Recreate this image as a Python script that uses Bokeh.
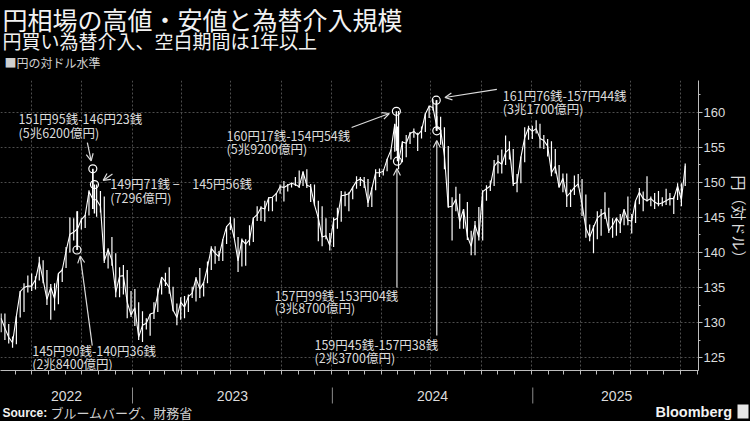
import math
import pandas as pd
from bokeh.plotting import figure
from bokeh.layouts import row
from bokeh.models import (Range1d, FixedTicker, Label, Arrow, OpenHead, ColumnDataSource)
from bokeh.embed import file_html
from bokeh.resources import INLINE

# ---------------- texts ----------------
title_text = "円相場の高値・安値と為替介入規模"
subtitle_text = "円買い為替介入、空白期間は1年以上"
legend_text = "■円の対ドル水準"
y_axis_text = "円（対ドル）"
source_bold = "Source:"
source_text = "ブルームバーグ、財務省"
logo_text = "Bloomberg"
year_labels = ["2022", "2023", "2024", "2025"]
y_ticks = [125, 130, 135, 140, 145, 150, 155, 160]
y_minor_ticks = [122.5, 125, 127.5, 130, 132.5, 135, 137.5, 140, 142.5, 145,
                 147.5, 150, 152.5, 155, 157.5, 160, 162.5]

# ---------------- weekly USD/JPY (week ending Friday) ----------------
first_week = "2022-05-06"
high_2022 = [131.3, 131.3, 129.8, 128.0, 130.9, 134.5, 135.6, 136.7, 137.0, 136.6,
             139.4, 138.9, 137.5, 135.5, 135.6, 137.0, 137.7, 140.8, 145.0, 144.9,
             145.9, 144.9, 145.4, 148.9, 151.9, 149.7, 148.8, 148.0, 140.6, 142.2,
             139.9, 137.9, 138.2, 137.5, 134.5]
low_2022 = [128.6, 127.5, 127.0, 126.4, 126.9, 130.7, 131.5, 134.3, 134.5, 134.7,
            136.0, 135.6, 132.5, 130.4, 131.7, 132.6, 135.8, 137.8, 140.0, 141.7,
            140.4, 143.3, 143.5, 145.3, 146.2, 145.1, 145.7, 138.5, 137.7, 138.1,
            133.6, 133.6, 134.0, 130.6, 130.8]
close_2022 = [130.6, 129.2, 127.9, 127.1, 130.9, 134.4, 135.0, 135.2, 135.2, 136.1,
              138.6, 136.1, 133.3, 135.0, 133.4, 137.0, 137.5, 140.2, 142.6, 142.9,
              143.4, 144.7, 145.3, 148.7, 147.6, 147.5, 146.6, 138.8, 140.4, 138.9,
              134.3, 136.6, 136.7, 132.9, 131.1]

high_2023 = [134.8, 132.9, 131.6, 130.6, 131.2, 132.9, 134.9, 136.5, 137.1, 137.9,
             135.1, 132.7, 133.6, 133.8, 134.0, 135.1, 136.5, 137.8, 135.8, 138.7,
             140.9, 140.9, 140.2, 141.9, 143.8, 145.1, 144.9, 142.2, 142.0, 141.9,
             143.9, 145.0, 146.6, 146.6, 147.4, 147.9, 147.9, 148.5, 149.7, 150.2,
             149.8, 150.0, 150.8, 151.7, 151.6, 151.9, 149.8, 149.7, 147.4, 146.6,
             144.9, 142.8]
low_2023 = [129.5, 127.5, 127.2, 129.0, 128.1, 130.5, 131.5, 134.0, 135.2, 134.1,
            131.6, 129.6, 130.4, 130.6, 131.5, 133.5, 133.0, 133.5, 133.7, 135.6,
            137.5, 138.4, 138.8, 138.8, 141.2, 143.2, 142.1, 137.2, 138.0, 138.1,
            141.0, 141.5, 144.5, 144.5, 144.4, 145.9, 145.9, 147.3, 148.4, 147.3,
            148.7, 149.3, 149.5, 149.2, 149.5, 149.2, 147.2, 146.7, 141.6, 140.9,
            141.9, 140.3]
close_2023 = [132.1, 127.9, 129.6, 129.9, 131.2, 131.4, 134.1, 136.5, 135.8, 135.0,
              131.8, 130.7, 132.9, 132.2, 133.7, 134.2, 136.3, 134.8, 135.7, 137.9,
              140.6, 139.9, 139.4, 141.8, 143.7, 144.3, 142.1, 138.8, 141.8, 141.2,
              141.8, 144.9, 145.4, 146.4, 146.2, 147.8, 147.9, 148.4, 149.4, 149.3,
              149.6, 149.9, 149.7, 149.4, 151.5, 149.6, 149.4, 146.8, 144.9, 142.2,
              142.4, 141.0]

high_2024 = [145.0, 146.4, 148.8, 148.7, 148.6, 149.4, 150.9, 150.8, 150.8, 150.5,
             149.3, 151.9, 152.0, 151.9, 153.4, 154.7, 158.4, 160.2, 155.9, 156.8,
             157.2, 157.7, 157.1, 158.0, 159.9, 161.0, 161.9, 161.8, 159.4, 157.9,
             155.2, 147.9, 149.4, 148.4, 146.2, 147.2, 143.1, 144.5, 146.5, 148.9,
             149.6, 150.3, 153.2, 153.9, 154.7, 156.7, 155.9, 154.8, 151.2, 153.7,
             157.9, 158.1]
low_2024 = [140.8, 143.4, 144.4, 146.6, 145.9, 147.6, 149.1, 149.5, 149.2, 146.5,
            146.5, 148.9, 150.8, 151.0, 151.6, 153.3, 154.4, 151.9, 152.9, 153.6,
            155.5, 156.4, 154.5, 156.3, 157.2, 159.2, 160.3, 157.4, 155.4, 151.9,
            146.4, 141.7, 145.9, 143.4, 143.4, 141.8, 139.6, 139.6, 141.7, 141.7,
            147.4, 148.8, 149.5, 151.3, 151.3, 152.5, 153.3, 149.5, 148.6, 149.9,
            152.9, 156.1]
close_2024 = [144.6, 144.9, 148.1, 148.2, 148.4, 149.3, 150.2, 150.5, 150.1, 147.1,
              149.1, 151.4, 151.4, 151.6, 153.3, 154.6, 158.3, 153.0, 155.8, 155.6,
              157.0, 157.3, 156.8, 157.4, 159.8, 160.9, 160.7, 157.9, 157.5, 153.8,
              146.5, 146.6, 147.6, 144.4, 146.2, 142.3, 140.9, 143.9, 142.2, 148.7,
              149.1, 149.5, 152.3, 153.0, 152.6, 154.3, 154.8, 149.8, 150.0, 153.6,
              156.4, 157.8]

high_2025 = [158.1, 158.9, 158.4, 156.8, 156.2, 155.9, 154.8, 152.5, 151.3, 151.3,
             149.0, 151.0, 151.2, 150.5, 148.3, 144.0, 143.9, 145.9, 146.2, 148.6,
             146.4, 144.9, 145.0, 145.5, 146.2, 148.0, 145.5, 147.4, 149.2, 148.7,
             150.9, 148.0, 148.5, 148.8, 147.9, 149.1, 148.5, 148.0, 149.9, 149.9,
             152.7]
low_2025 = [156.2, 157.0, 154.9, 154.8, 153.7, 150.9, 151.3, 149.3, 148.6, 146.5,
            146.5, 148.2, 149.3, 145.2, 142.1, 141.6, 139.9, 141.9, 142.4, 144.8,
            142.8, 142.1, 142.4, 142.8, 143.9, 143.9, 142.7, 144.2, 146.9, 145.9,
            147.3, 146.6, 146.2, 146.6, 146.6, 146.8, 146.7, 145.5, 147.5, 146.6,
            149.5]
close_2025 = [157.3, 157.7, 156.3, 156.0, 155.2, 151.4, 152.3, 149.3, 150.6, 148.0,
              148.6, 149.3, 149.8, 146.9, 143.5, 142.2, 143.6, 144.9, 145.4, 145.7,
              143.1, 143.9, 144.9, 144.1, 146.1, 144.6, 144.5, 147.4, 148.6, 147.7,
              147.4, 147.7, 147.2, 146.9, 147.1, 147.4, 147.7, 147.7, 149.5, 147.5,
              152.4]

weekly_high = high_2022 + high_2023 + high_2024 + high_2025
weekly_low = low_2022 + low_2023 + low_2024 + low_2025
weekly_close = close_2022 + close_2023 + close_2024 + close_2025

# ---------------- interventions ----------------
iv_dates = ["2022-09-22", "2022-10-21", "2022-10-24", "2024-04-29",
            "2024-05-01", "2024-07-11", "2024-07-12"]
iv_high = [145.90, 151.95, 149.71, 160.17, 157.99, 161.76, 159.45]
iv_low = [140.36, 146.23, 145.56, 154.54, 153.04, 157.44, 157.38]
iv_marked = ["low", "high", "high", "high", "low", "high", "low"]
iv_amount = ["2兆8400億円", "5兆6200億円", "7296億円", "5兆9200億円",
             "3兆8700億円", "3兆1700億円", "2兆3700億円"]
iv_sep = ["-", "-", " −\u3000", "-", "-", "-", "-"]

# callout layout (label anchor, arrow start, arrow end) in data space
callouts = [
    dict(tx="2022-07-02", ty=126.0, dy=1.85, ax0="2022-10-20", ay0=126.7, ax1="2022-09-28", ay1=139.5),
    dict(tx="2022-06-07", ty=159.1, dy=2.0, ax0="2022-10-11", ay0=155.7, ax1="2022-10-18", ay1=153.1),
    dict(tx="2022-11-22", ty=149.86, dy=2.0, ax0="2022-11-26", ay0=151.2, ax1="2022-11-09", ay1=150.3),
    dict(tx="2023-06-23", ty=156.7, dy=1.85, ax0="2024-02-07", ay0=157.86, ax1="2024-04-16", ay1=159.86),
    dict(tx="2023-09-19", ty=133.86, dy=1.75, ax0="2024-04-30", ay0=135.0, ax1="2024-04-30", ay1=152.0),
    dict(tx="2024-11-10", ty=162.43, dy=1.85, ax0="2024-10-30", ay0=163.29, ax1="2024-07-27", ay1=162.14),
    dict(tx="2023-12-01", ty=126.86, dy=1.85, ax0="2024-07-12", ay0=128.14, ax1="2024-07-12", ay1=156.0),
]

# ---------------- helpers / style ----------------
JP = "Noto Sans CJK JP"
SANS = "Liberation Sans"
TXT = "#dcdcdc"
WHITE = "#f2f2f2"
AX = "#bdbdbd"


def ms(d):
    return pd.Timestamp(d).value / 1e6


def yen(v):
    y = int(v)
    s = int(round((v - y) * 100))
    return f"{y}円{s:02d}銭"


def blank_fig(width, height, x_range, y_range, bottom=0):
    f = figure(width=width, height=height, x_range=x_range, y_range=y_range,
               output_backend="svg", toolbar_location=None,
               x_axis_location=None, y_axis_location=None,
               min_border=0, min_border_left=0, min_border_right=0,
               min_border_top=0, min_border_bottom=bottom,
               background_fill_color="black", border_fill_color="black",
               outline_line_color=None)
    f.xgrid.visible = False
    f.ygrid.visible = False
    return f


dates = pd.date_range(first_week, periods=len(weekly_close), freq="W-FRI")
src = ColumnDataSource(dict(date=dates, high=weekly_high, low=weekly_low, close=weekly_close))

# time scale: 200 px per year, 2023-01-01 at 132 px, plot frame 700 px wide
px_per_day = 200 / 365.25
anchor = pd.Timestamp("2023-01-01")
t_left = anchor - pd.Timedelta(days=132 / px_per_day)
t_right = anchor + pd.Timedelta(days=568 / px_per_day)
t_page_right = anchor + pd.Timedelta(days=618 / px_per_day)

# ---------------- header (canvas y 0..80) ----------------
head = blank_fig(750, 80, Range1d(0, 750), Range1d(80, 0))
head.add_layout(Label(x=2, y=0, text=title_text, text_font=JP, text_font_size="25px",
                      text_color=WHITE, text_baseline="top"))
head.add_layout(Label(x=2, y=26, text=subtitle_text, text_font=JP, text_font_size="19px",
                      text_color=WHITE, text_baseline="top"))
head.add_layout(Label(x=4, y=62, text=legend_text, text_font=JP, text_font_size="12px",
                      text_color="#cfcfcf", text_baseline="middle"))

# ---------------- main chart (canvas y 80..380, x 0..728) ----------------
p = figure(width=728, height=300, x_axis_type="datetime", y_axis_location="right",
           x_range=Range1d(t_left, t_right), y_range=Range1d(123.143, 164.571),
           output_backend="svg", toolbar_location=None,
           background_fill_color="black", border_fill_color="black",
           outline_line_color=None,
           min_border_left=0, min_border_right=28, min_border_top=0, min_border_bottom=10)

month_ticks = [ms(d) for d in pd.date_range("2022-06-01", "2025-11-01", freq="MS")]
quarter_ticks = [ms(d) for d in pd.date_range("2022-07-01", "2025-10-01", freq="QS")]
p.xaxis.ticker = FixedTicker(ticks=month_ticks, minor_ticks=[])
p.xaxis.major_label_overrides = {t: "" for t in month_ticks}
p.xaxis.major_label_text_font_size = "0px"
p.xaxis.major_label_standoff = 0
p.xaxis.major_tick_out = 4
p.xaxis.major_tick_in = 0
p.xaxis.axis_line_color = AX
p.xaxis.major_tick_line_color = AX

p.yaxis.ticker = FixedTicker(ticks=y_ticks, minor_ticks=y_minor_ticks)
p.yaxis.major_tick_out = 4
p.yaxis.major_tick_in = 0
p.yaxis.minor_tick_out = 2
p.yaxis.minor_tick_in = 0
p.yaxis.major_label_standoff = 1
p.yaxis.axis_line_color = AX
p.yaxis.major_tick_line_color = AX
p.yaxis.minor_tick_line_color = AX
p.yaxis.major_label_text_color = TXT
p.yaxis.major_label_text_font = SANS
p.yaxis.major_label_text_font_size = "13px"

p.xgrid.ticker = FixedTicker(ticks=quarter_ticks)
p.xgrid.grid_line_color = "#4d4d4d"
p.xgrid.grid_line_dash = "2 2"
p.ygrid.grid_line_color = "#4d4d4d"
p.ygrid.grid_line_dash = "2 2"

p.segment(x0="date", y0="low", x1="date", y1="high", source=src,
          line_color="white", line_width=1.2)
p.line("date", "close", source=src, line_color="white", line_width=1.1)

iv_x = pd.to_datetime(iv_dates)
p.segment(x0=iv_x, y0=iv_low, x1=iv_x, y1=iv_high, line_color="white", line_width=1.4)
marked = [lo if side == "low" else hi for lo, hi, side in zip(iv_low, iv_high, iv_marked)]
p.scatter(iv_x, marked, marker="circle", size=8, fill_color=None,
          line_color="white", line_width=1.2)

for i, c in enumerate(callouts):
    line1 = yen(iv_high[i]) + iv_sep[i] + yen(iv_low[i])
    line2 = "(" + iv_amount[i] + ")"
    for txt, yy in ((line1, c["ty"]), (line2, c["ty"] - c["dy"])):
        p.add_layout(Label(x=ms(c["tx"]), y=yy, text=txt, text_font=JP,
                           text_font_size="12.5px", text_color=TXT,
                           text_align="left", text_baseline="middle"))
    p.add_layout(Arrow(end=OpenHead(size=7, line_color=TXT, line_width=1.2),
                       x_start=ms(c["ax0"]), y_start=c["ay0"],
                       x_end=ms(c["ax1"]), y_end=c["ay1"],
                       line_color=TXT, line_width=1.2))

# y-axis title column (canvas x 728..750), frame rows aligned with the chart frame
lab = blank_fig(22, 300, Range1d(0, 22), Range1d(0, 290), bottom=10)
lab.add_layout(Label(x=11, y=150, x_units="screen", y_units="screen", text=y_axis_text,
                     text_font=JP, text_font_size="15px", text_color=TXT,
                     angle=-math.pi / 2, text_align="center", text_baseline="middle"))

# ---------------- footer (canvas y 380..421) ----------------
foot = blank_fig(750, 41, Range1d(ms(t_left), ms(t_page_right)), Range1d(421, 380))
year_starts = [pd.Timestamp(f"{y}-01-01") for y in year_labels]
for k, lb in enumerate(year_labels):
    a = max(year_starts[k], t_left)
    b = min(year_starts[k] + pd.DateOffset(years=1), t_right)
    mid = a + (b - a) / 2
    foot.add_layout(Label(x=ms(mid), y=395.5, text=lb, text_font=SANS, text_font_size="14px",
                          text_color=TXT, text_align="center", text_baseline="middle"))
sep_x = [ms(ys) for ys in year_starts[1:]]
foot.segment(x0=sep_x, y0=[387] * len(sep_x), x1=sep_x, y1=[403] * len(sep_x),
             line_color="#8a8a8a", line_width=1)
foot.add_layout(Label(x=2, y=412, x_units="screen", text=source_bold, text_font=SANS,
                      text_font_size="12px", text_font_style="bold", text_color=WHITE,
                      text_baseline="middle"))
foot.add_layout(Label(x=50, y=412, x_units="screen", text=source_text, text_font=JP,
                      text_font_size="13px", text_color="#cfcfcf", text_baseline="middle"))
foot.add_layout(Label(x=655, y=411, x_units="screen", text=logo_text, text_font=SANS,
                      text_font_size="14.5px", text_font_style="bold", text_color=WHITE,
                      text_baseline="middle"))
foot.quad(left=[ms(t_left + pd.Timedelta(days=737 / px_per_day))],
          right=[ms(t_left + pd.Timedelta(days=748 / px_per_day))],
          top=[404], bottom=[418], fill_color="#e6e6e6", line_color=None)

html = file_html([head, row(p, lab, spacing=0), foot], INLINE, title="円相場")
html = html.replace("<head>", "<head><style>html,body{margin:0;padding:0;background:#000;overflow:hidden}</style>", 1)
open("out.html", "w").write(html)
